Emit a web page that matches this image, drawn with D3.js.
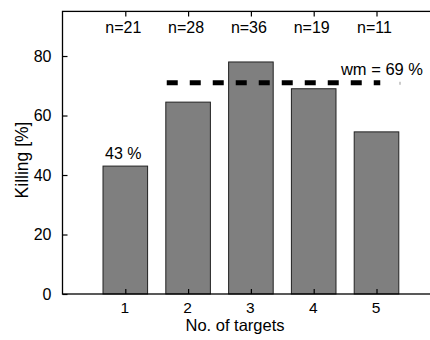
<!DOCTYPE html>
<html><head><meta charset="utf-8">
<script src="https://cdn.jsdelivr.net/npm/d3@7"></script>
<style>body{margin:0;background:#fff}svg{display:block}text{font-family:"Liberation Sans",Arial,sans-serif;fill:#000}</style>
</head><body><svg id="c" width="430" height="340"></svg>
<script>
const categories = [1, 2, 3, 4, 5];
const killing = [43, 64.5, 78, 69, 54.5];
const nLabels = ["n=21", "n=28", "n=36", "n=19", "n=11"];
const yTicks = [0, 20, 40, 60, 80];
const wmValue = 71;
const wmRange = [1.66, 5.06];
const wmLabel = "wm = 69 %";
const firstLabel = "43 %";

const svg = d3.select("#c");
const x = d3.scaleLinear().domain([0, 6]).range([62.5, 439.3]);
const y = d3.scaleLinear().domain([0, 95]).range([294, 11.4]);
const bw = 0.71;

// bars
svg.selectAll("rect.bar").data(categories).join("rect")
  .attr("x", (d) => x(d - bw / 2)).attr("width", x(bw) - x(0))
  .attr("y", (d, i) => y(killing[i])).attr("height", (d, i) => y(0) - y(killing[i]))
  .attr("fill", "#7f7f7f").attr("stroke", "#222").attr("stroke-width", 1);

// frame
svg.append("rect").attr("x", x(0)).attr("y", y(95)).attr("width", x(6) - x(0)).attr("height", y(0) - y(95))
  .attr("fill", "none").attr("stroke", "#000").attr("stroke-width", 1.3);

// axes with inward ticks
const gx = svg.append("g").attr("transform", `translate(0,${y(0)})`)
  .call(d3.axisBottom(x).tickValues(categories).tickSize(-5).tickPadding(8).tickFormat(d3.format("d")));
const gxt = svg.append("g").attr("transform", `translate(0,${y(95)})`)
  .call(d3.axisTop(x).tickValues(categories).tickSize(-5).tickFormat(""));
const gy = svg.append("g").attr("transform", `translate(${x(0)},0)`)
  .call(d3.axisLeft(y).tickValues(yTicks).tickSize(-5).tickPadding(11));
[gx, gxt, gy].forEach(g => {
  g.select(".domain").remove();
  g.selectAll("line").attr("stroke", "#000").attr("stroke-width", 1.2);
  g.selectAll("text").style("font-size", "16px").style("font-family", '"Liberation Sans",Arial,sans-serif').attr("fill", "#000");
});
gx.selectAll("text").style("font-size", "15.5px").attr("dy", "0.71em").attr("dx", -1);

// n labels
svg.selectAll("text.n").data(categories).join("text").attr("class", "n")
  .attr("x", (d) => x(d) - 2).attr("y", 33).attr("text-anchor", "middle")
  .style("font-size", "16px").text((d, i) => nLabels[i]);

// 43 % label
svg.append("text").attr("x", x(1) - 2).attr("y", y(killing[0]) - 7).attr("text-anchor", "middle")
  .style("font-size", "16px").text(firstLabel);

// weighted mean line
svg.append("line").attr("x1", x(wmRange[0])).attr("x2", x(wmRange[1]))
  .attr("y1", y(wmValue)).attr("y2", y(wmValue))
  .attr("stroke", "#000").attr("stroke-width", 5).attr("stroke-dasharray", "11,12");
svg.append("line").attr("x1", 400).attr("x2", 400).attr("y1", y(wmValue) - 1).attr("y2", y(wmValue) + 2)
  .attr("stroke", "#999").attr("stroke-width", 1);
svg.append("text").attr("x", 423).attr("y", 75).attr("text-anchor", "end")
  .style("font-size", "16.5px").text(wmLabel);

// axis labels
svg.append("text").attr("x", 235).attr("y", 331).attr("text-anchor", "middle")
  .style("font-size", "16.5px").text("No. of targets");
svg.append("text").attr("transform", "translate(28,160) rotate(-90)").attr("text-anchor", "middle")
  .style("font-size", "17.5px").text("Killing [%]");
</script></body></html>
